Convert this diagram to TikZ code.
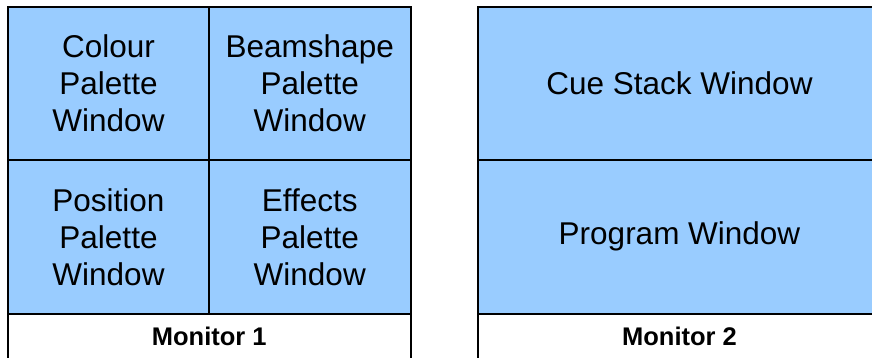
\documentclass[tikz,border=0pt]{standalone}
\usepackage{fontspec}
\setmainfont{Liberation Sans}
\definecolor{paneblue}{HTML}{99CCFF}
\begin{document}
\begin{tikzpicture}[x=1pt,y=-1pt,
  cell/.style={draw=black,line width=2pt,fill=paneblue,inner sep=0pt,outer sep=0pt,
    align=center,font=\fontsize{31.5}{37}\selectfont},
  base/.style={draw=black,line width=2pt,fill=white,inner sep=0pt,outer sep=0pt},
  mlabel/.style={inner sep=0pt,anchor=base,font=\fontsize{25.5}{30}\selectfont\bfseries}]
\useasboundingbox (0,0) rectangle (872,358);
\clip (0,0) rectangle (872,358);
\fill[white] (0,0) rectangle (872,358);
% Monitor 1
\node[base,minimum width=402.5pt,minimum height=70pt,anchor=north west] (m1base) at (8,313.7) {};
\node[cell,minimum width=201pt,minimum height=153pt] (colour) at (108.5,83.5) {Colour\\Palette\\Window};
\node[cell,minimum width=201.5pt,minimum height=153pt] (beam) at (309.75,83.5) {Beamshape\\Palette\\Window};
\node[cell,minimum width=201pt,minimum height=153.7pt] (pos) at (108.5,236.85) {Position\\Palette\\Window};
\node[cell,minimum width=201.5pt,minimum height=153.7pt] (eff) at (309.75,236.85) {Effects\\Palette\\Window};
\node[mlabel] (m1) at (209.25,345) {Monitor 1};
% Monitor 2
\node[base,minimum width=403pt,minimum height=70pt,anchor=north west] (m2base) at (478,313.7) {};
\node[cell,minimum width=403pt,minimum height=153pt] (cue) at (679.5,83.5) {Cue Stack Window};
\node[cell,minimum width=403pt,minimum height=153.7pt] (prog) at (679.5,236.85) {Program Window};
\node[mlabel] (m2) at (679.5,345) {Monitor 2};
\end{tikzpicture}
\end{document}
